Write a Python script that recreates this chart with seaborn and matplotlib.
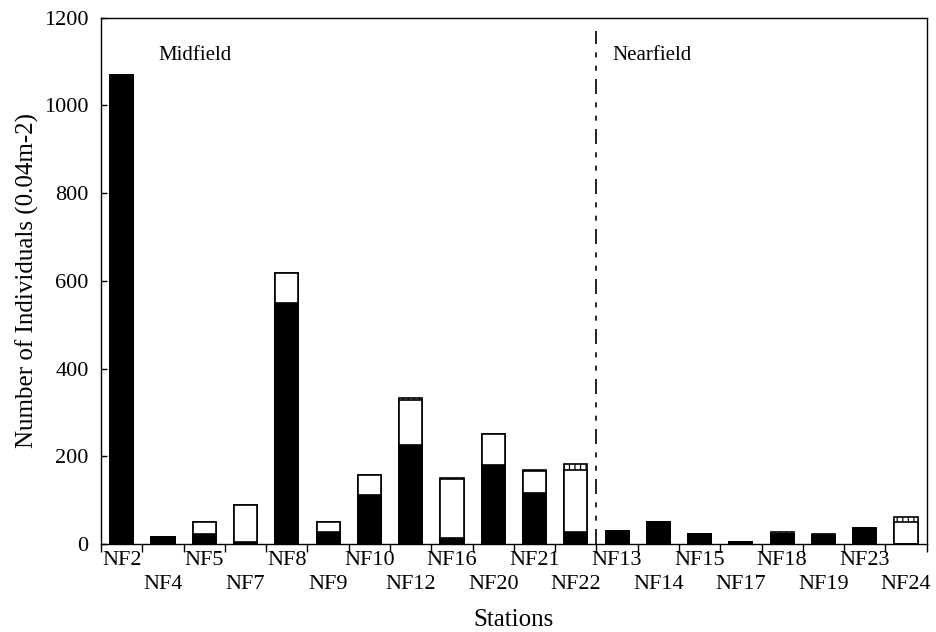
import matplotlib
matplotlib.use("Agg")
import matplotlib.pyplot as plt
import seaborn as sns
import pandas as pd
import numpy as np

stations = ["NF2", "NF4", "NF5", "NF7", "NF8", "NF9", "NF10", "NF12", "NF16", "NF20",
            "NF21", "NF22", "NF13", "NF14", "NF15", "NF17", "NF18", "NF19", "NF23", "NF24"]
black_part = [1070, 17, 24, 4, 550, 28, 113, 227, 13, 181, 116, 27, 30, 50, 24, 5, 24, 21, 37, 1]
white_part = [0, 0, 27, 86, 68, 22, 45, 101, 136, 69, 51, 141, 0, 0, 0, 0, 0, 0, 0, 49]
hatched_part = [0, 0, 0, 0, 0, 0, 0, 6, 2, 0, 3, 15, 0, 0, 0, 0, 3, 2, 0, 11]
y_ticks = [0, 200, 400, 600, 800, 1000, 1200]

df = pd.DataFrame({"station": stations, "black": black_part,
                   "white": white_part, "hatched": hatched_part})
df["lower2"] = df["black"] + df["white"]
df["total"] = df["lower2"] + df["hatched"]

sns.set_style("ticks")
plt.rcParams["font.family"] = ["Liberation Serif", "DejaVu Serif"]
plt.rcParams["hatch.linewidth"] = 0.9
plt.rcParams["text.color"] = "black"
plt.rcParams["axes.labelcolor"] = "black"
plt.rcParams["xtick.color"] = "black"
plt.rcParams["ytick.color"] = "black"

fig = plt.figure(figsize=(9.36, 6.32), dpi=100)
ax = fig.add_axes([0.108, 0.139, 0.882, 0.833])

bar_kw = dict(x="station", order=stations, width=0.56, linewidth=1.2,
              edgecolor="black", ax=ax, errorbar=None)
sns.barplot(data=df, y="total", color="white", hatch="|||", **bar_kw)
sns.barplot(data=df, y="lower2", color="white", **bar_kw)
sns.barplot(data=df, y="black", color="black", **bar_kw)

ax.set_xlim(-0.5, len(stations) - 0.5)
ax.set_ylim(0, 1200)
ax.set_yticks(y_ticks)
ax.set_yticklabels([str(v) for v in y_ticks], fontsize=16)

# first row of station labels (even positions)
even_pos = list(range(0, len(stations), 2))
odd_pos = list(range(1, len(stations), 2))
ax.set_xticks(even_pos)
ax.set_xticklabels([stations[i] for i in even_pos], fontsize=16)
ax.set_xticks(np.arange(-0.5, len(stations), 1.0), minor=True)
ax.tick_params(axis="x", which="major", length=0, pad=5)
ax.tick_params(axis="x", which="minor", length=6, width=1.0, direction="out")
ax.tick_params(axis="y", which="major", length=4, width=1.0, direction="in", pad=9)

# second, staggered row of station labels (odd positions)
sec = ax.secondary_xaxis("bottom")
sec.set_xticks(odd_pos)
sec.set_xticklabels([stations[i] for i in odd_pos], fontsize=16)
sec.tick_params(axis="x", length=0, pad=22)
sec.spines["bottom"].set_visible(False)

for side in ["left", "right", "top", "bottom"]:
    ax.spines[side].set_visible(True)
    ax.spines[side].set_color("black")
    ax.spines[side].set_linewidth(1.0)

ax.set_xlabel("")
sec.set_xlabel("Stations", fontsize=18, labelpad=11)
ax.set_ylabel("Number of Individuals (0.04m-2)", fontsize=18, labelpad=4)

ax.axvline(11.5, ymin=0.0, ymax=0.975, color="black", linewidth=1.2,
           linestyle=(0, (9, 5, 3, 5, 3, 5)))

ax.text(0.069, 0.928, "Midfield", transform=ax.transAxes, fontsize=15,
        ha="left", va="center")
ax.text(0.619, 0.928, "Nearfield", transform=ax.transAxes, fontsize=15,
        ha="left", va="center")

fig.savefig("out.png", dpi=100, facecolor="white")
